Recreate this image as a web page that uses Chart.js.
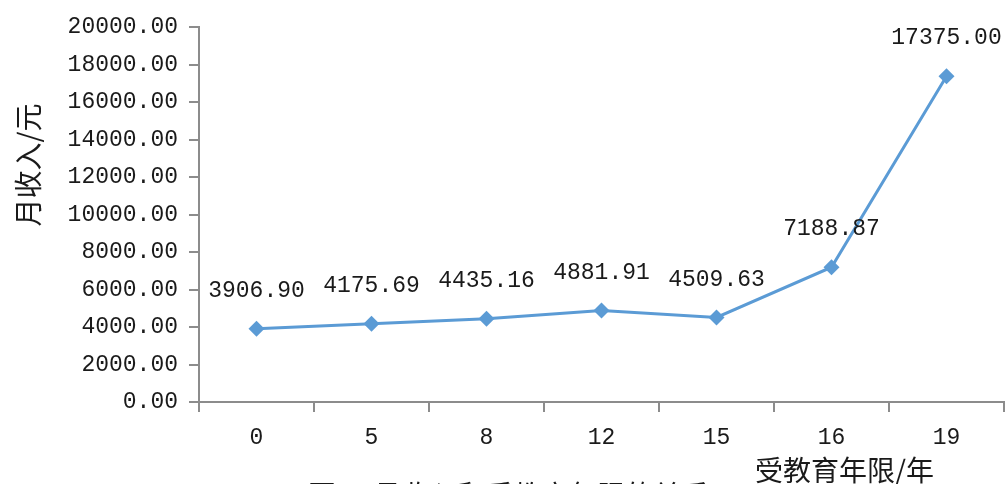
<!DOCTYPE html>
<html>
<head>
<meta charset="utf-8">
<script src="https://cdn.jsdelivr.net/npm/chart.js@4/dist/chart.umd.min.js"></script>
<style>
  html, body { margin: 0; padding: 0; background: #fff; }
  #wrap { position: relative; width: 1006px; height: 484px; overflow: hidden; }
  #chart { position: absolute; left: 0; top: 0; }
  .cn { position: absolute; font-family: "Noto Sans CJK SC", sans-serif; font-size: 28px; line-height: 28px; color: #1a1a1a; white-space: nowrap; }
  #ytitle { left: -37px; top: 150px; width: 130px; height: 30px; text-align: center; transform: rotate(-90deg); }
  #xtitle { left: 755px; top: 455px; }
  #caption { left: 308px; top: 480px; }
</style>
</head>
<body>
<div id="wrap">
  <canvas id="chart" width="1012" height="510"></canvas>
  <div class="cn" id="ytitle">月收入/元</div>
  <div class="cn" id="xtitle">受教育年限/年</div>
  <div class="cn" id="caption">图26 月收入和受教育年限的关系</div>
</div>
<script>
// -------data--------
const years = ["0", "5", "8", "12", "15", "16", "19"];
const income = [3906.90, 4175.69, 4435.16, 4881.91, 4509.63, 7188.87, 17375.00];
const yMin = 0;
const yMax = 20000;
const yStep = 2000;
// -------data--------

const numFont = { family: "Liberation Mono", size: 23 };
const axisGray = "#8c8c8c";

// draw value labels above each point
const valueLabels = {
  id: "valueLabels",
  afterDatasetsDraw(chart) {
    const ctx = chart.ctx;
    const meta = chart.getDatasetMeta(0);
    ctx.save();
    ctx.font = numFont.size + "px " + numFont.family;
    ctx.fillStyle = "#1a1a1a";
    ctx.textAlign = "center";
    ctx.textBaseline = "middle";
    meta.data.forEach((pt, i) => {
      ctx.fillText(income[i].toFixed(2), pt.x, pt.y - 38);
    });
    ctx.restore();
  },
};

const ctx = document.getElementById("chart").getContext("2d");
new Chart(ctx, {
  type: "line",
  data: {
    labels: years,
    datasets: [
      {
        data: income,
        borderColor: "#5b9bd5",
        backgroundColor: "#5b9bd5",
        borderWidth: 3,
        pointStyle: "rectRot",
        pointRadius: 8,
        pointBorderWidth: 0,
        tension: 0,
      },
    ],
  },
  options: {
    responsive: false,
    animation: false,
    layout: { padding: { left: 0, top: 27, right: 1, bottom: 0 } },
    plugins: {
      legend: { display: false },
      tooltip: { enabled: false },
    },
    scales: {
      x: {
        offset: true,
        grid: {
          offset: true,
          drawOnChartArea: false,
          color: axisGray,
          lineWidth: 2,
          tickLength: 10,
        },
        border: { color: axisGray, width: 2 },
        ticks: { font: numFont, color: "#1a1a1a", padding: 12, maxRotation: 0 },
        afterFit(scale) {
          scale.height = 108;
        },
      },
      y: {
        min: yMin,
        max: yMax,
        grid: {
          drawOnChartArea: false,
          color: axisGray,
          lineWidth: 2,
          tickLength: 10,
        },
        border: { color: axisGray, width: 2 },
        ticks: {
          stepSize: yStep,
          font: numFont,
          color: "#1a1a1a",
          padding: 11,
          callback: (v) => v.toFixed(2),
        },
        afterFit(scale) {
          scale.width = 199;
        },
      },
    },
  },
  plugins: [valueLabels],
});
</script>
</body>
</html>
